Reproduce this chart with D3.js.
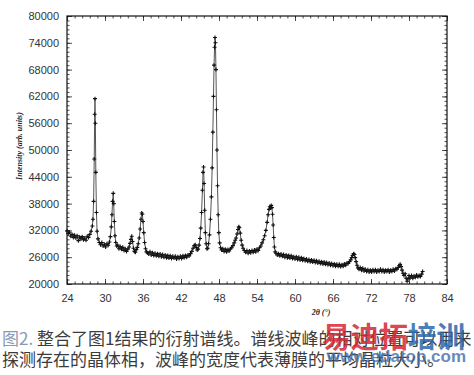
<!DOCTYPE html>
<html>
<head>
<meta charset="utf-8">
<script src="https://cdn.jsdelivr.net/npm/d3@7"></script>
<style>
  body { margin: 0; background: #fff; }
  svg { display: block; }
  .tick text { font-family: "Liberation Sans", Arial, sans-serif; font-size: 11px; fill: #333; }
  .axis-title { font-family: "Liberation Serif", serif; font-style: italic; font-weight: bold; font-size: 8px; fill: #222; }
  .caption { font-family: "Noto Sans CJK SC", sans-serif; font-size: 17px; }
  .wm-url { font-family: "Liberation Sans", Arial, sans-serif; font-weight: bold; font-size: 17px; fill: #3f6eb0; }
</style>
</head>
<body>
<svg id="chart"></svg>
<script>
// tick labels
const xTicks = [24, 30, 36, 42, 48, 54, 60, 66, 72, 78, 84]
const yTicks = [20000, 26000, 32000, 38000, 44000, 50000, 56000, 62000, 68000, 74000, 80000]

// XRD scan: [2theta, intensity]
const scan = [
  [24.0,31900],[24.2,31300],[24.4,31600],[24.6,30700],[24.8,31100],[25.0,30400],[25.2,30900],[25.4,30300],
  [25.6,30800],[25.8,29700],[26.0,30500],[26.2,30100],[26.4,30600],[26.6,29900],[26.8,30300],[27.0,29800],
  [27.2,30700],[27.4,30400],[27.6,31100],[27.8,31800],[28.0,33000],
  [28.1,34500],[28.2,38500],[28.3,48000],[28.37,58000],[28.42,61500],[28.48,56000],[28.55,45000],[28.65,36000],
  [28.75,31800],[28.9,30100],
  [29.1,29300],[29.3,28800],[29.5,29300],[29.7,28500],[29.9,28900],[30.1,28300],[30.3,29000],[30.5,28700],
  [30.7,29400],[30.85,30600],[31.0,32800],[31.1,35500],[31.2,38500],[31.3,40300],[31.38,38000],[31.47,34000],
  [31.58,30800],[31.7,29300],[31.85,28500],
  [32.0,28700],[32.2,27900],[32.4,28400],[32.6,27800],[32.8,28200],[33.0,27500],[33.2,27900],[33.4,27300],
  [33.6,27800],[33.8,28300],[33.95,29100],[34.1,30000],[34.22,30700],[34.35,29500],[34.5,28000],[34.65,27300],
  [34.8,27100],[34.95,27700],[35.1,28200],[35.25,29000],[35.4,30300],[35.55,32300],[35.68,34500],[35.8,35900],
  [35.9,35600],[36.0,34000],[36.12,31500],[36.25,29300],[36.4,27900],[36.55,27200],
  [36.7,27000],[36.9,26700],[37.1,27200],[37.3,26500],[37.5,27000],[37.7,26400],[37.9,26900],[38.1,26300],
  [38.3,26800],[38.5,26200],[38.7,26700],[38.9,26100],[39.1,26600],[39.3,26000],[39.5,26500],[39.7,25900],
  [39.9,26400],[40.1,25800],[40.3,26300],[40.5,25700],[40.7,26200],[40.9,25800],[41.1,26200],[41.3,25600],
  [41.5,26100],[41.7,25700],[41.9,26200],[42.1,25700],[42.3,26300],[42.5,25900],[42.7,26400],[42.9,26000],
  [43.1,26500],[43.3,26300],[43.5,26800],[43.7,27300],[43.9,28000],[44.1,28600],[44.25,28800],[44.4,28200],
  [44.55,27600],[44.7,27800],[44.85,28700],[45.0,30200],
  [45.12,32500],[45.25,36000],[45.38,41000],[45.48,45000],[45.56,46200],[45.64,42500],[45.74,36500],[45.85,31500],
  [45.97,29000],[46.1,27900],[46.22,28000],[46.35,29000],[46.5,31000],[46.65,34500],[46.8,39500],[46.92,46000],
  [47.03,54000],[47.13,62000],[47.22,69000],[47.3,73000],[47.37,75200],[47.44,74000],[47.52,68000],[47.6,59000],
  [47.68,50000],[47.77,42000],[47.87,35500],[47.97,31500],[48.1,29200],[48.25,28100],
  [48.4,27600],[48.6,27900],[48.8,27300],[49.0,27800],[49.2,27200],[49.4,27700],[49.6,27400],[49.8,27900],
  [50.0,28100],[50.2,28600],[50.4,29200],[50.55,29800],[50.7,30300],[50.85,31200],[51.0,32200],[51.12,32800],
  [51.22,32600],[51.35,31400],[51.5,29800],[51.65,28700],[51.8,28000],
  [52.0,27500],[52.2,27100],[52.4,27500],[52.6,26900],[52.8,27400],[53.0,27000],[53.2,27500],[53.4,27100],
  [53.6,27600],[53.8,27200],[54.0,27800],[54.2,27500],[54.4,28100],[54.6,28500],[54.8,29200],[55.0,29900],
  [55.2,30800],[55.4,32000],[55.6,33800],[55.75,35500],[55.9,36700],[56.02,37300],[56.15,37000],[56.25,37600],
  [56.35,37100],[56.45,35600],[56.55,33200],[56.65,30400],[56.75,28300],[56.88,27200],
  [57.0,26900],[57.2,26500],[57.4,26800],[57.6,26300],[57.8,26700],[58.0,26200],[58.2,26600],[58.4,26000],
  [58.6,26500],[58.8,25900],[59.0,26400],[59.2,25800],[59.4,26300],[59.6,25700],[59.8,26100],[60.0,25600],
  [60.2,26100],[60.4,25500],[60.6,26000],[60.8,25400],[61.0,25900],[61.2,25300],[61.4,25700],[61.6,25200],
  [61.8,25600],[62.0,25100],[62.2,25500],[62.4,25000],[62.6,25400],[62.8,24900],[63.0,25300],[63.2,24800],
  [63.4,25200],[63.6,24700],[63.8,25100],[64.0,24600],[64.2,25000],[64.4,24500],[64.6,24900],[64.8,24400],
  [65.0,24800],[65.2,24300],[65.4,24700],[65.6,24200],[65.8,24600],[66.0,24100],[66.2,24500],[66.4,24000],
  [66.6,24400],[66.8,24000],[67.0,24400],[67.2,23900],[67.4,24300],[67.6,24000],[67.8,24500],[68.0,24200],
  [68.2,24700],[68.4,24600],[68.6,25000],[68.8,25400],[68.95,25900],[69.1,26400],[69.25,26800],[69.38,26600],
  [69.5,25900],[69.65,25000],[69.8,24200],[69.95,23600],
  [70.1,23300],[70.3,23700],[70.5,23100],[70.7,23500],[70.9,22900],[71.1,23300],[71.3,22800],[71.5,23200],
  [71.7,22700],[71.9,23100],[72.1,22700],[72.3,23200],[72.5,22800],[72.7,23200],[72.9,22700],[73.1,23100],
  [73.3,22800],[73.5,23300],[73.7,22800],[73.9,23200],[74.1,22700],[74.3,23100],[74.5,22800],[74.7,23200],
  [74.9,22700],[75.1,23100],[75.3,22800],[75.5,23300],[75.7,22900],[75.9,23400],[76.1,23300],[76.3,23700],
  [76.45,24100],[76.6,24400],[76.75,23900],[76.9,23100],[77.05,22400],
  [77.2,21900],[77.4,22300],[77.55,21300],[77.7,20600],[77.85,21200],[78.0,21900],[78.2,21400],[78.4,21900],
  [78.6,21300],[78.8,21800],[79.0,21500],[79.2,22000],[79.4,21600],[79.6,21900],[79.8,21700],[80.0,22200],
  [80.15,22800]
]

const captionLines = [
  { lead: '图2. ', text: '整合了图1结果的衍射谱线。谱线波峰的相对位置可以用来' },
  { lead: '', text: '探测存在的晶体相，波峰的宽度代表薄膜的平均晶粒大小。' }
]

const W = 474, H = 375
const margin = { top: 16, right: 27, bottom: 91, left: 67 }
const width = W - margin.left - margin.right
const height = H - margin.top - margin.bottom

const svg = d3.select('#chart').attr('width', W).attr('height', H)

const chart = svg.append('g')
    .attr('transform', `translate(${margin.left}, ${margin.top})`)

const xScale = d3.scaleLinear().domain([24, 84]).range([0, width])
const yScale = d3.scaleLinear().domain([20000, 80000]).range([height, 0])

const xMinor = d3.range(0, 51).map(i => 24 + i * 1.2)
const yMinor = d3.range(0, 61).map(i => 20000 + i * 1000)

function addAxis(axisFn, scale, values, size, transform, labels) {
    const g = chart.append('g')
        .attr('class', 'axis')
        .attr('transform', transform)
        .call(axisFn(scale).tickValues(values).tickSize(size).tickPadding(labels ? 8 : 0)
            .tickFormat(labels ? d3.format('d') : ''))
    g.select('.domain').remove()
    g.selectAll('.tick line').attr('stroke', '#222').attr('stroke-width', 0.8)
    return g
}

// minor + major ticks on all four sides, pointing inward
addAxis(d3.axisBottom, xScale, xMinor, -2.5, `translate(0, ${height})`, false)
addAxis(d3.axisTop, xScale, xMinor, -2.5, 'translate(0, 0)', false)
addAxis(d3.axisLeft, yScale, yMinor, -2.5, 'translate(0, 0)', false)
addAxis(d3.axisRight, yScale, yMinor, -2.5, `translate(${width}, 0)`, false)

const xAxisG = addAxis(d3.axisBottom, xScale, xTicks, -5, `translate(0, ${height})`, true)
xAxisG.selectAll('.tick text').attr('dy', '0.9em')
addAxis(d3.axisTop, xScale, xTicks, -5, 'translate(0, 0)', false)
addAxis(d3.axisLeft, yScale, yTicks, -5, 'translate(0, 0)', true)
addAxis(d3.axisRight, yScale, yTicks, -5, `translate(${width}, 0)`, false)

chart.append('rect')
    .attr('width', width).attr('height', height)
    .attr('fill', 'none').attr('stroke', '#111').attr('stroke-width', 1.2)

// the scan: thin line plus a "+" at every point
const line = d3.line().x(d => xScale(d[0])).y(d => yScale(d[1]))
chart.append('path')
    .datum(scan)
    .attr('fill', 'none')
    .attr('stroke', '#555')
    .attr('stroke-width', 1)
    .attr('d', line)

chart.selectAll('.pt')
    .data(scan)
    .join('path')
        .attr('class', 'pt')
        .attr('stroke', '#111')
        .attr('stroke-width', 1.1)
        .attr('d', d => {
            const x = xScale(d[0]), y = yScale(d[1])
            return `M${x - 2},${y}h4M${x},${y - 2}v4`
        })

// axis titles
chart.append('text')
    .attr('class', 'axis-title')
    .attr('transform', `translate(-45, ${height / 2 - 4}) rotate(-90)`)
    .attr('text-anchor', 'middle')
    .text('Intensity (arb. units)')

chart.append('text')
    .attr('class', 'axis-title')
    .attr('x', 254).attr('y', height + 31)
    .attr('text-anchor', 'middle')
    .text('2θ (°)')

// caption
const cap = svg.append('g').attr('class', 'caption')
captionLines.forEach((c, i) => {
    const t = cap.append('text').attr('x', 2).attr('y', 345 + i * 21)
    if (c.lead) t.append('tspan').attr('fill', '#8a9ab4').text(c.lead)
    t.append('tspan').attr('fill', '#3c3c3c').text(c.text)
})

// watermark laid over the caption's right end
const wm = svg.append('g').attr('class', 'watermark')
wm.append('text')
    .attr('x', 322).attr('y', 348)
    .attr('font-family', '"Noto Sans CJK SC", sans-serif')
    .attr('font-weight', 'bold').attr('font-size', 29)
    .attr('textLength', 143).attr('lengthAdjust', 'spacingAndGlyphs')
    .attr('opacity', 0.85)
    .call(t => {
        t.append('tspan').attr('fill', '#d62834').text('易迪拓')
        t.append('tspan').attr('fill', '#2e68aa').text('培训')
    })
wm.append('text')
    .attr('class', 'wm-url')
    .attr('x', 466).attr('y', 362)
    .attr('text-anchor', 'end')
    .attr('opacity', 0.8)
    .text('www.edatop.com')
</script>
</body>
</html>
